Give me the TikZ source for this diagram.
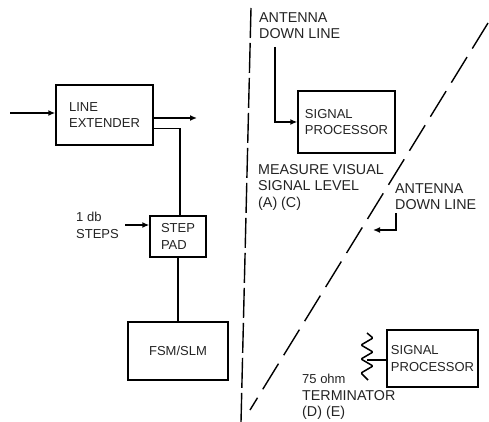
\documentclass[tikz,border=0pt]{standalone}
\usepackage{fontspec}
\setmainfont{Liberation Sans}
\usepackage{tikz}
\usetikzlibrary{arrows.meta,positioning,calc}
\definecolor{inkgrey}{RGB}{35,35,35}

\begin{document}
\begin{tikzpicture}[x=1pt, y=-1pt, font=\fontsize{13}{16.5}\selectfont, text=inkgrey,
    blk/.style={draw=black, line width=1.4pt, inner sep=0pt, align=left},
    lbl/.style={inner sep=0pt, align=left, anchor=north west},
    widelbl/.style={lbl, font=\fontsize{14.3}{16.5}\selectfont},
    wire/.style={draw=black, line width=1.5pt},
    feed/.style={wire, -{Latex[length=7pt,width=6pt]}},
    split/.style={draw=black, line width=1.4pt}]
\useasboundingbox (0,0) rectangle (489,422);
\node[blk, minimum width=97pt, minimum height=60pt] (ext) at (104.5,115) {LINE\\EXTENDER};
\node[blk, minimum width=56pt, minimum height=41pt] (pad) at (178,236.5) {STEP\\PAD};
\node[blk, minimum width=100pt, minimum height=58pt] (fsm) at (178,351) {FSM/SLM};
\node[blk, minimum width=97pt, minimum height=62pt] (sp1) at (346.5,122) {SIGNAL\\PROCESSOR};
\node[blk, minimum width=91pt, minimum height=57pt] (sp2) at (432.5,358.5) {SIGNAL\\PROCESSOR};
\node[lbl] (steps) at (76,212) {1 db\\STEPS};
\node[widelbl] (ant1) at (259,12) {ANTENNA\\DOWN LINE};
\node[widelbl] (meas) at (258,164) {MEASURE VISUAL\\SIGNAL LEVEL\\(A) (C)};
\node[widelbl] (ant2) at (395,183) {ANTENNA\\DOWN LINE};
\node[widelbl] (term) at (302,374) {{\fontsize{13}{16.5}\selectfont 75 ohm}\\TERMINATOR\\(D) (E)};
\coordinate (inp) at (10,113);
\coordinate (outp) at (197,118);
\coordinate (tap) at (180,128.5);
\coordinate (drop1) at (275,47);
\coordinate (drop2) at (396,213);
\coordinate (hit2) at (373,230);
\coordinate (res) at (367,360);
\draw[feed] (inp) -- (ext.west |- inp);
\draw[feed] (ext.east |- outp) -- (outp);
\draw[wire] (ext.east |- tap) -- (tap) -- (tap |- pad.north);
\draw[wire] (pad.south) -- (fsm.north);
\draw[feed] (steps.east |- 0,225) ++(6,0) -- (pad.west |- 0,225);
\draw[feed] (drop1) |- (sp1.west);
\draw[feed] (drop2) |- (hit2);
\draw[wire] (res) -- (sp2.west |- res);
\draw[wire, line join=round, rounded corners=1pt] (367,333) -- (373,338) -- (361,345) -- (373,352)
    -- (361,359) -- (373,366) -- (361,373) -- (368,380);
\draw[split, dash pattern=on 30pt off 5pt] (251,8) -- (241,422);
\draw[split, dash pattern=on 30pt off 10pt] (488,23) -- (250,410);
\end{tikzpicture}
\end{document}
